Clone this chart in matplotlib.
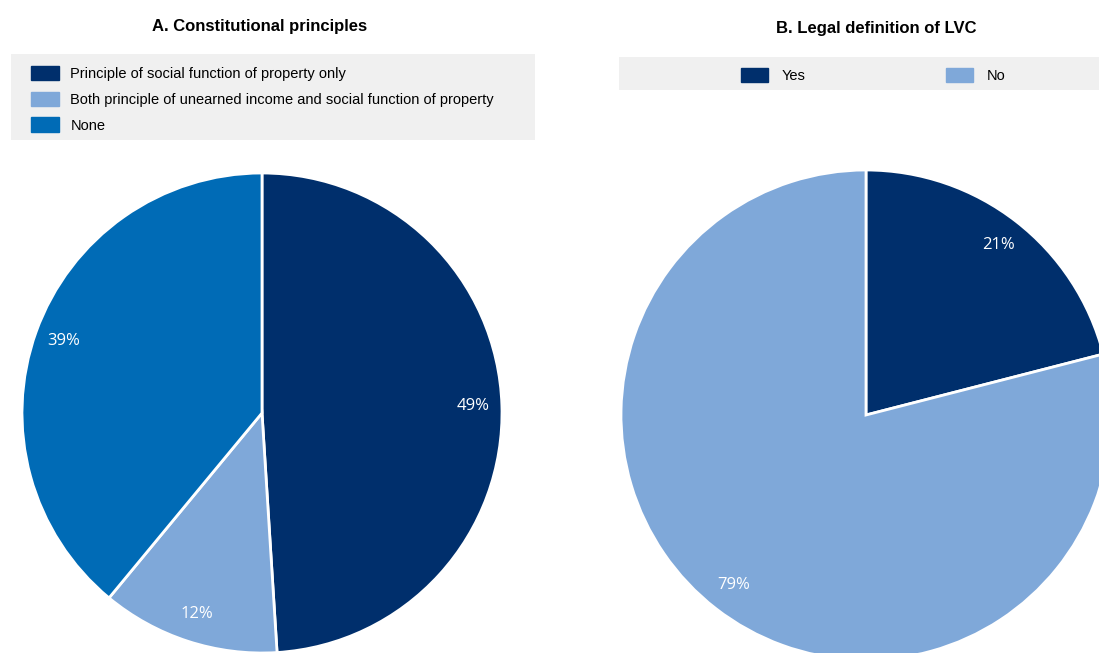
import matplotlib
matplotlib.use("Agg")
import matplotlib.pyplot as plt
from matplotlib.patches import Rectangle, Patch
from matplotlib import font_manager

# Data
a_labels = ["Principle of social function of property only",
            "Both principle of unearned income and social function of property",
            "None"]
a_values = [49, 12, 39]
a_colors = ["#002F6C", "#7FA8D9", "#006BB6"]

b_labels = ["Yes", "No"]
b_values = [21, 79]
b_colors = ["#002F6C", "#7FA8D9"]

names = {f.name for f in font_manager.fontManager.ttflist}
narrow = "Liberation Sans Narrow" if "Liberation Sans Narrow" in names else "Liberation Sans"

W, H = 1099, 653
fig = plt.figure(figsize=(W / 100, H / 100), dpi=100)


def px_axes(cx, cy, r):
    return fig.add_axes([(cx - r) / W, (H - cy - r) / H, 2 * r / W, 2 * r / H])


def draw_pie(ax, values, colors):
    ax.pie(values, colors=colors, startangle=90, counterclock=False, radius=1,
           autopct=lambda p: f"{p:.0f}%", pctdistance=0.88,
           wedgeprops=dict(edgecolor="white", linewidth=2),
           textprops=dict(color="white", fontsize=12, family="Open Sans"))
    ax.set_xlim(-1, 1)
    ax.set_ylim(-1, 1)
    ax.set_aspect("auto")
    ax.axis("off")
    for p in ax.patches:
        p.set_clip_on(False)


ax_a = px_axes(262, 413, 240)
draw_pie(ax_a, a_values, a_colors)
ax_b = px_axes(866, 415, 245)
draw_pie(ax_b, b_values, b_colors)

# Titles
fig.text(260 / W, 1 - 26 / H, "A. Constitutional principles", ha="center", va="center",
         fontsize=12, fontweight="bold", family=narrow)
fig.text(876 / W, 1 - 28 / H, "B. Legal definition of LVC", ha="center", va="center",
         fontsize=12, fontweight="bold", family=narrow)

# Legend backgrounds
fig.patches.append(Rectangle((11 / W, 1 - 140 / H), 524 / W, 86 / H, transform=fig.transFigure,
                             facecolor="#F0F0F0", edgecolor="none", zorder=0))
fig.patches.append(Rectangle((619 / W, 1 - 90 / H), 480 / W, 33 / H, transform=fig.transFigure,
                             facecolor="#F0F0F0", edgecolor="none", zorder=0))

fs = 10.5
leg_a = fig.legend([Patch(color=c) for c in a_colors], a_labels, loc="upper left",
                   bbox_to_anchor=(31 / W, 1 - 66 / H), frameon=False, borderpad=0,
                   borderaxespad=0, handlelength=1.9, handleheight=1.15, handletextpad=0.8,
                   labelspacing=0.72, prop=dict(family=narrow, size=fs))
leg_b = fig.legend([Patch(color=c) for c in b_colors], b_labels, loc="upper left",
                   bbox_to_anchor=(741 / W, 1 - 68 / H), frameon=False, borderpad=0,
                   borderaxespad=0, ncol=2, handlelength=1.85, handleheight=1.15,
                   handletextpad=0.95, columnspacing=9.6, prop=dict(family=narrow, size=fs))

fig.savefig("out.png", dpi=100)
